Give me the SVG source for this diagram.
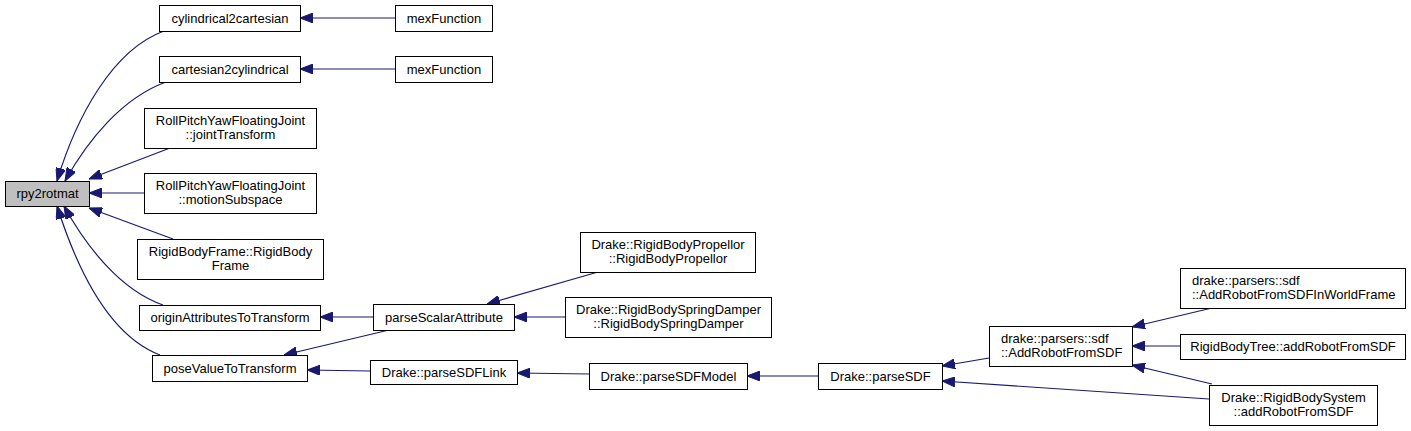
<svg xmlns="http://www.w3.org/2000/svg" width="1411" height="431" viewBox="0 0 1411 431">
<style>
.n rect{fill:#fff;stroke:#000;stroke-width:1}
.n.hl rect{fill:#bfbfbf}
.n text{font-family:"Liberation Sans",Arial,sans-serif;font-size:13px;fill:#000;text-anchor:middle}
.n text.l{text-anchor:start}
.e path{fill:none;stroke:#191970;stroke-width:1.2;marker-end:url(#ah)}
</style>
<defs>
<marker id="ah" viewBox="0 0 13 10" refX="13" refY="5" markerWidth="13" markerHeight="10" markerUnits="userSpaceOnUse" orient="auto">
<path d="M0,0 L13,5 L0,10 Z" fill="#191970" stroke="#191970" stroke-width="1"/>
</marker>
</defs>
<rect width="1411" height="431" fill="#fff"/>
<g id="edges" class="e">
<path d="M395,18 L300,18"/>
<path d="M395,69 L300,69"/>
<path d="M164,31 C112,50 76,118 57,181"/>
<path d="M166,82 C122,98 88,140 65,181"/>
<path d="M170,148 L89,179"/>
<path d="M144,193 L89,193"/>
<path d="M173,239 L89,208"/>
<path d="M163,305 C120,290 86,246 64,206"/>
<path d="M160,355 C110,336 78,272 57,206"/>
<path d="M373,317 L320,317"/>
<path d="M389,330 L284,355"/>
<path d="M370,371 L307,370"/>
<path d="M598,272 L487,304"/>
<path d="M565,317 L514,317"/>
<path d="M589,374 L517,373"/>
<path d="M818,376 L747,376"/>
<path d="M989,358 L942,366"/>
<path d="M1209,399 L942,381"/>
<path d="M1212,308 L1132,327"/>
<path d="M1180,346 L1132,346"/>
<path d="M1212,384 L1132,365"/>
</g>
<g id="n_rpy2rotmat" class="n hl"><rect x="5.5" y="181.5" width="84" height="25"/><text x="47.5" y="198">rpy2rotmat</text></g>
<g id="n_cyl2cart" class="n"><rect x="159.5" y="5.5" width="141" height="26"/><text x="230" y="23">cylindrical2cartesian</text></g>
<g id="n_mex1" class="n"><rect x="395.5" y="5.5" width="97" height="26"/><text x="444" y="23">mexFunction</text></g>
<g id="n_cart2cyl" class="n"><rect x="159.5" y="56.5" width="141" height="26"/><text x="230" y="74">cartesian2cylindrical</text></g>
<g id="n_mex2" class="n"><rect x="395.5" y="56.5" width="97" height="26"/><text x="444" y="74">mexFunction</text></g>
<g id="n_jointTransform" class="n"><rect x="144.5" y="108.5" width="172" height="40"/><text x="230.5" y="125">RollPitchYawFloatingJoint</text><text x="230.5" y="139">::jointTransform</text></g>
<g id="n_motionSubspace" class="n"><rect x="144.5" y="173.5" width="172" height="40"/><text x="230.5" y="190">RollPitchYawFloatingJoint</text><text x="230.5" y="204">::motionSubspace</text></g>
<g id="n_rbframe" class="n"><rect x="137.5" y="239.5" width="186" height="40"/><text x="230.5" y="256">RigidBodyFrame::RigidBody</text><text x="230.5" y="270">Frame</text></g>
<g id="n_originAttr" class="n"><rect x="139.5" y="305.5" width="181" height="25"/><text x="230" y="322">originAttributesToTransform</text></g>
<g id="n_poseValue" class="n"><rect x="152.5" y="355.5" width="155" height="26"/><text x="230" y="373">poseValueToTransform</text></g>
<g id="n_parseScalar" class="n"><rect x="373.5" y="304.5" width="141" height="26"/><text x="444" y="322">parseScalarAttribute</text></g>
<g id="n_propellor" class="n"><rect x="580.5" y="232.5" width="175" height="40"/><text x="668" y="249">Drake::RigidBodyPropellor</text><text x="668" y="263">::RigidBodyPropellor</text></g>
<g id="n_spring" class="n"><rect x="565.5" y="297.5" width="206" height="40"/><text x="668.5" y="314">Drake::RigidBodySpringDamper</text><text x="668.5" y="328">::RigidBodySpringDamper</text></g>
<g id="n_sdfLink" class="n"><rect x="370.5" y="360.5" width="147" height="24"/><text x="444" y="377">Drake::parseSDFLink</text></g>
<g id="n_sdfModel" class="n"><rect x="589.5" y="363.5" width="158" height="26"/><text x="668.5" y="381">Drake::parseSDFModel</text></g>
<g id="n_parseSDF" class="n"><rect x="818.5" y="363.5" width="124" height="26"/><text x="880.5" y="381">Drake::parseSDF</text></g>
<g id="n_addRobot" class="n"><rect x="989.5" y="326.5" width="143" height="40"/><text class="l" x="1001" y="343">drake::parsers::sdf</text><text class="l" x="1001" y="357">::AddRobotFromSDF</text></g>
<g id="n_inWorld" class="n"><rect x="1180.5" y="268.5" width="225" height="40"/><text class="l" x="1192" y="285">drake::parsers::sdf</text><text class="l" x="1192" y="299">::AddRobotFromSDFInWorldFrame</text></g>
<g id="n_tree" class="n"><rect x="1180.5" y="334.5" width="225" height="25"/><text x="1293" y="351">RigidBodyTree::addRobotFromSDF</text></g>
<g id="n_system" class="n"><rect x="1209.5" y="385.5" width="168" height="40"/><text x="1293.5" y="402">Drake::RigidBodySystem</text><text x="1293.5" y="416">::addRobotFromSDF</text></g>
</svg>
